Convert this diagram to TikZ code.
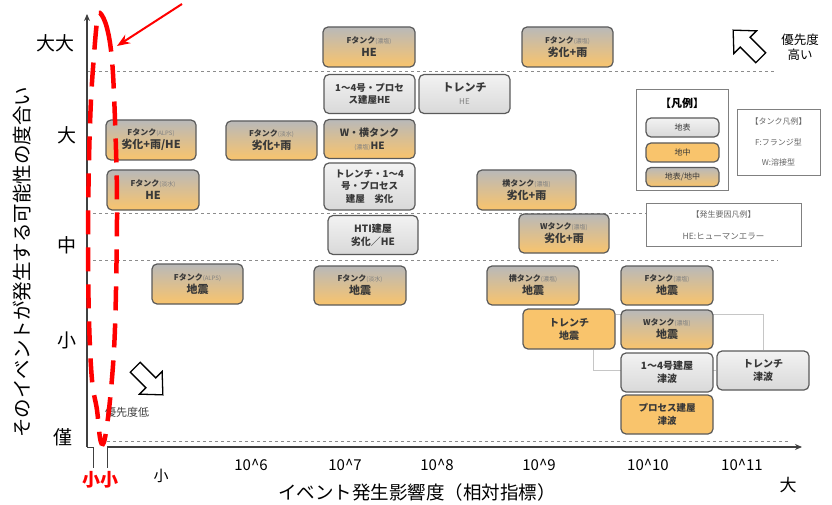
\documentclass[tikz,border=0pt]{standalone}
\usepackage{fontspec}
\setmainfont{Noto Sans CJK JP}
\usetikzlibrary{arrows.meta}
\definecolor{boxline}{HTML}{5A5A5A}
\definecolor{orangefill}{HTML}{F9C46C}
\definecolor{gridgray}{HTML}{8C8C8C}
\definecolor{axisgray}{HTML}{404040}
\pgfdeclarelayer{background}
\pgfsetlayers{background,main}
\newcommand{\hd}[1]{{\fontsize{8}{10}\selectfont #1}}
\newcommand{\sm}[1]{{\fontsize{6}{8}\selectfont\mdseries\color{black!50}#1}}
\tikzset{
  box/.style={draw=boxline, line width=1.2pt, rounded corners=5pt,
    minimum width=91pt, minimum height=39pt, align=center, inner sep=1pt,
    text=black!78, font=\fontsize{11}{13}\selectfont\bfseries},
  surface/.style={box, top color=gray!10, bottom color=gray!30},
  under/.style={box, fill=orangefill},
  mixed/.style={box, top color=gray!55, bottom color=orangefill},
  grid/.style={gridgray, dashed, line width=0.8pt},
  conn/.style={gray!45, line width=0.7pt},
  axis/.style={axisgray, line width=1.2pt},
  lbl/.style={font=\fontsize{19}{21}\selectfont},
  tick/.style={font=\fontsize{15}{17}\selectfont},
  legend/.style={draw=gray, line width=0.9pt, fill=white},
  note/.style={font=\fontsize{8}{10}\selectfont, text=black!60},
}
\begin{document}
\begin{tikzpicture}[x=1pt, y=-1pt]
  \useasboundingbox (0,0) rectangle (832,505);

  \draw[grid] (87,71) -- (775,71);
  \draw[grid] (87,213) -- (646,213);
  \draw[grid] (87,260) -- (778,260);
  \draw[grid] (107,441) -- (790,441);

  \draw[axis, -{Stealth[length=7pt,width=6pt]}] (87,447) -- (87,14);
  \draw[axis, -{Stealth[length=7pt,width=6pt]}] (107,447) -- (802,447);
  \draw[axis, line width=0.8pt] (87,447) -- (93,447) -- (93,468);
  \draw[axis, line width=0.8pt] (107,447) -- (107,468);

  \node[lbl] (yy1) at (55,43) {大大};
  \node[lbl] (yy2) at (67,135) {大};
  \node[lbl] (yy3) at (67,245) {中};
  \node[lbl] (yy4) at (67,340) {小};
  \node[lbl] (yy5) at (63,437) {僅};
  \node[rotate=90, font=\fontsize{19.5}{21}\selectfont] (ytitle) at (22,262) {そのイベントが発生する可能性の度合い};

  \node[tick] (xx0) at (161,476) {小};
  \node[tick] (xx1) at (251,465) {10\^{}6};
  \node[tick] (xx2) at (345,465) {10\^{}7};
  \node[tick] (xx3) at (437,465) {10\^{}8};
  \node[tick] (xx4) at (539,465) {10\^{}9};
  \node[tick] (xx5) at (648,465) {10\^{}10};
  \node[tick] (xx6) at (742,465) {10\^{}11};
  \node[lbl, font=\fontsize{17}{19}\selectfont] (xx7) at (788,485) {大};
  \node[font=\fontsize{18.5}{20}\selectfont] (xtitle) at (417,492) {イベント発生影響度（相対指標）};

  \node[mixed, minimum width=92pt, minimum height=40pt] (fc1) at (369,47) {\hd{Fタンク\sm{(濃塩)}}\\HE};
  \node[mixed, minimum height=40pt] (fc2) at (567.5,47) {\hd{Fタンク\sm{(濃塩)}}\\劣化+雨};
  \node[surface, font=\fontsize{9.5}{12}\selectfont\bfseries] (bd1) at (369.5,94) {1～4号・プロセ\\ス建屋HE};
  \node[surface] (tr1) at (464.5,94) {トレンチ\\{\fontsize{8}{10}\selectfont\mdseries\color{black!50}HE}};
  \node[mixed, font=\fontsize{10}{13}\selectfont\bfseries] (wy1) at (369.5,139) {W・横タンク\\\sm{(濃塩)}HE};
  \node[surface, minimum height=47pt, font=\fontsize{9.5}{12.5}\selectfont\bfseries] (tr2) at (369.5,186.5) {トレンチ・1～4\\号・プロセス\\建屋　劣化};
  \node[surface, minimum width=90pt, font=\fontsize{10}{13}\selectfont\bfseries] (ht1) at (373,235) {HTI建屋\\劣化／HE};
  \node[mixed, minimum width=90pt, minimum height=40pt] (fa1) at (151,140) {\hd{Fタンク\sm{(ALPS)}}\\劣化+雨/HE};
  \node[mixed] (ff1) at (271.5,140.5) {\hd{Fタンク\sm{(淡水)}}\\劣化+雨};
  \node[mixed, minimum width=92pt, minimum height=40pt] (ff2) at (153,190) {\hd{Fタンク\sm{(淡水)}}\\HE};
  \node[mixed, minimum width=99pt, minimum height=40pt] (yc1) at (526.5,190) {\hd{横タンク\sm{(濃塩)}}\\劣化+雨};
  \node[mixed, minimum width=90pt] (wc1) at (564,233.5) {\hd{Wタンク\sm{(濃塩)}}\\劣化+雨};
  \node[mixed, minimum height=40pt] (fa2) at (197.5,284) {\hd{Fタンク\sm{(ALPS)}}\\地震};
  \node[mixed, minimum width=92pt] (ff3) at (360,285.5) {\hd{Fタンク\sm{(淡水)}}\\地震};
  \node[mixed, minimum width=92pt] (yc2) at (533,285.5) {\hd{横タンク\sm{(濃塩)}}\\地震};
  \node[mixed, minimum width=92pt] (fc3) at (667,285.5) {\hd{Fタンク\sm{(濃塩)}}\\地震};
  \node[under, minimum width=92pt, minimum height=40pt, font=\fontsize{10}{13}\selectfont\bfseries] (tr3) at (569,329) {トレンチ\\地震};
  \node[mixed, minimum width=92pt] (wc2) at (667,329.5) {\hd{Wタンク\sm{(濃塩)}}\\地震};
  \node[surface, minimum width=92pt, font=\fontsize{10}{13}\selectfont\bfseries] (bd2) at (667,372.5) {1～4号建屋\\津波};
  \node[surface, minimum width=92pt, font=\fontsize{10}{13}\selectfont\bfseries] (tr4) at (763,370.5) {トレンチ\\津波};
  \node[under, minimum width=92pt, font=\fontsize{9.5}{13}\selectfont\bfseries] (pr1) at (667,414.5) {プロセス建屋\\津波};

  \begin{pgfonlayer}{background}
    \draw[conn] ([yshift=-6pt]tr3.north east) -| (tr4.north);
    \draw[conn] ([xshift=-22pt]tr3.south east) |- (tr4.west);
  \end{pgfonlayer}

  \node[legend, minimum width=92pt, minimum height=101pt] (lg) at (682,139.5) {};
  \node[font=\fontsize{11}{13}\selectfont\bfseries] (lgt) at (682,103) {【凡例】};
  \node[surface, minimum width=73pt, minimum height=19pt, font=\fontsize{8}{10}\selectfont] (lg1) at (682.5,127.5) {地表};
  \node[under, minimum width=73pt, minimum height=19pt, font=\fontsize{8}{10}\selectfont] (lg2) at (682.5,152.5) {地中};
  \node[mixed, minimum width=73pt, minimum height=19pt, font=\fontsize{8}{10}\selectfont] (lg3) at (682.5,177) {地表/地中};

  \node[legend, minimum width=83pt, minimum height=66pt] (tk) at (778.5,142) {};
  \node[note] (tk1) at (778.5,121) {【タンク凡例】};
  \node[note] (tk2) at (778.5,142) {F:フランジ型};
  \node[note] (tk3) at (778.5,162) {W:溶接型};

  \node[legend, minimum width=155pt, minimum height=43pt] (ca) at (723.5,224.5) {};
  \node[note] (ca1) at (723.5,214) {【発生要因凡例】};
  \node[note, font=\fontsize{8.5}{10}\selectfont] (ca2) at (723.5,236) {HE:ヒューマンエラー};

  \draw[line width=1.3pt, line join=miter, fill=white, shift={(748,45)}, rotate=45]
    (0,-21) -- (-16,-4) -- (-7,-4) -- (-7,18) -- (7,18) -- (7,-4) -- (16,-4) -- cycle;
  \node[font=\fontsize{12.5}{15}\selectfont, align=center] (hi) at (800,47) {優先度\\高い};

  \draw[line width=1.3pt, line join=miter, fill=white, shift={(148,380)}, rotate=225]
    (0,-21) -- (-16,-4) -- (-7,-4) -- (-7,18) -- (7,18) -- (7,-4) -- (16,-4) -- cycle;
  \node[font=\fontsize{11}{13}\selectfont, text=black!75, fill=white, inner sep=1pt] (lo) at (127,412) {優先度低};

  \draw[red, line width=4.5pt, dash pattern=on 24pt off 13pt] plot[smooth cycle, tension=0.6] coordinates {
    (100,13) (107,28) (112,60) (115,120) (117,200) (116,290) (114,350) (110,400) (106,432) (103,444)
    (100,438) (97,410) (92,380) (89,320) (88,240) (89,160) (91,100) (94,55) (97,22)};
  \coordinate (rs) at (182,4);
  \coordinate (re) at (117,46);
  \draw[red, line width=2pt, -{Stealth[length=13pt,width=10pt]}] (rs) -- (re);
  \node[red, font=\fontsize{18}{20}\selectfont\bfseries] (rl) at (100,480) {小小};
\end{tikzpicture}
\end{document}
